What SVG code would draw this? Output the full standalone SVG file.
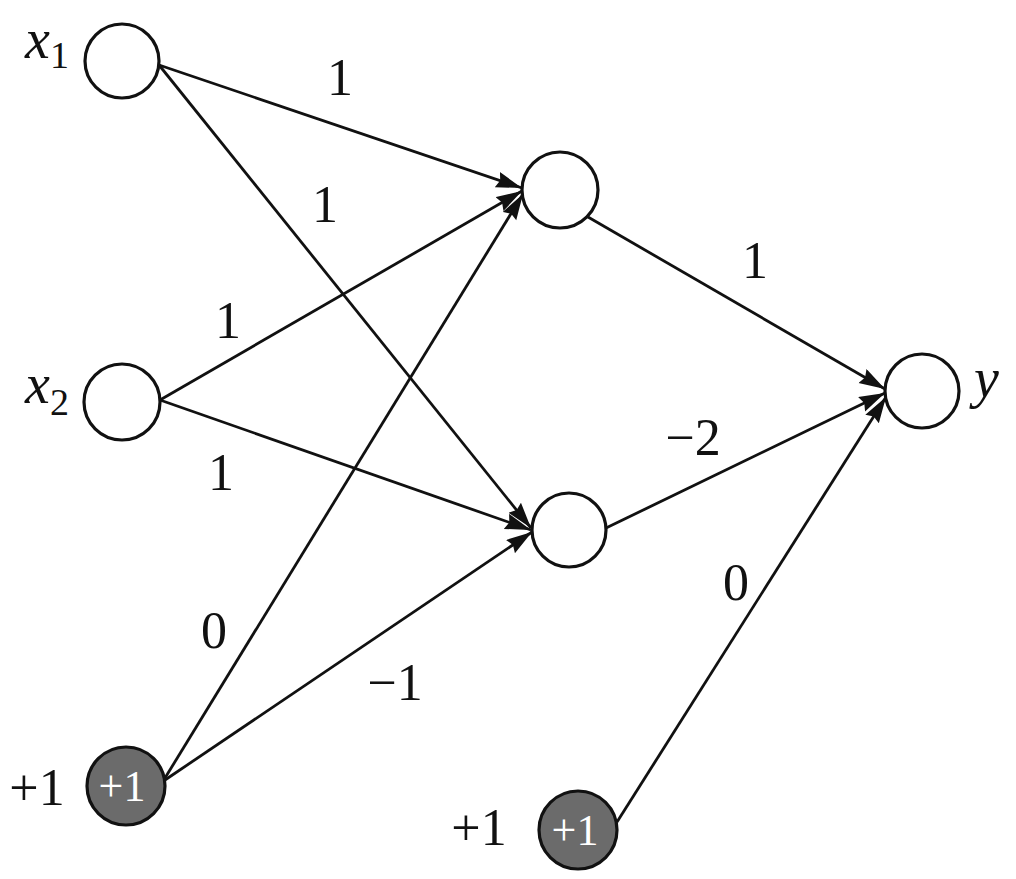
<svg xmlns="http://www.w3.org/2000/svg" width="1016" height="879" viewBox="0 0 1016 879">
<style>
.n{fill:#fff;stroke:#111;stroke-width:3.2}
.b{fill:#6b6b6b;stroke:#111;stroke-width:3.2}
.e{stroke:#111;stroke-width:2.8;fill:none;marker-end:url(#ah)}
.t{font-family:"Liberation Serif","DejaVu Serif","Times New Roman",serif;font-size:52px;fill:#111}
.it{font-family:"Liberation Serif","DejaVu Serif","Times New Roman",serif;font-style:italic;font-size:56px;fill:#111}
.sub{font-family:"Liberation Serif","DejaVu Serif","Times New Roman",serif;font-size:38px;fill:#111}
.w{font-family:"Liberation Serif","DejaVu Serif","Times New Roman",serif;font-size:44px;fill:#fff}
</style>
<defs>
<marker id="ah" markerUnits="userSpaceOnUse" markerWidth="28" markerHeight="18" refX="26" refY="8" orient="auto">
<path d="M0,0 L26,8 L0,16 L3,8 z" fill="#111"/>
</marker>
</defs>
<rect width="1016" height="879" fill="#fff"/>
<g id="connectors">
<line class="e" x1="159" y1="65" x2="522" y2="188"/>
<line class="e" x1="159" y1="65" x2="531" y2="528"/>
<line class="e" x1="160" y1="400" x2="522" y2="191"/>
<line class="e" x1="160" y1="400" x2="531" y2="530"/>
<line class="e" x1="165" y1="778" x2="523" y2="194"/>
<line class="e" x1="165" y1="780" x2="532" y2="532"/>
<line class="e" x1="588" y1="217" x2="885" y2="389"/>
<line class="e" x1="606" y1="528" x2="885" y2="393"/>
<line class="e" x1="617" y1="822" x2="886" y2="397"/>
</g>
<g id="labels">
<text class="t" x="340" y="95" text-anchor="middle">1</text>
<text class="t" x="325" y="222" text-anchor="middle">1</text>
<text class="t" x="228" y="338" text-anchor="middle">1</text>
<text class="t" x="221" y="490" text-anchor="middle">1</text>
<text class="t" x="214" y="648" text-anchor="middle">0</text>
<text class="t" x="395" y="700" text-anchor="middle">−1</text>
<text class="t" x="755" y="278" text-anchor="middle">1</text>
<text class="t" x="693" y="455" text-anchor="middle">−2</text>
<text class="t" x="736" y="600" text-anchor="middle">0</text>
</g>
<g id="x1">
<circle class="n" cx="122" cy="61" r="37"/>
<text class="it" x="25" y="58">x</text><text class="sub" x="50" y="68">1</text>
</g>
<g id="x2">
<circle class="n" cx="122" cy="402" r="38"/>
<text class="it" x="25" y="403">x</text><text class="sub" x="50" y="415">2</text>
</g>
<g id="bias1">
<circle class="b" cx="126" cy="786" r="39"/>
<text class="w" x="122" y="801" text-anchor="middle">+1</text>
<text class="t" x="37" y="805" text-anchor="middle">+1</text>
</g>
<g id="h1">
<circle class="n" cx="560" cy="190" r="38"/>
</g>
<g id="h2">
<circle class="n" cx="569" cy="530" r="37"/>
</g>
<g id="y">
<circle class="n" cx="922" cy="391" r="37"/>
<text class="it" x="974" y="397">y</text>
</g>
<g id="bias2">
<circle class="b" cx="578" cy="830" r="39"/>
<text class="w" x="575" y="845" text-anchor="middle">+1</text>
<text class="t" x="479" y="845" text-anchor="middle">+1</text>
</g>
</svg>
